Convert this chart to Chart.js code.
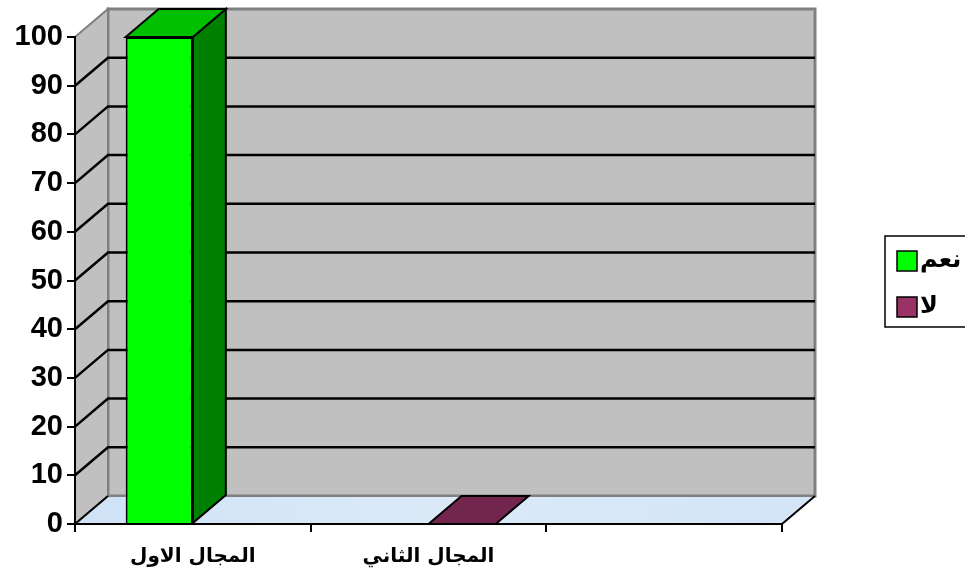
<!DOCTYPE html>
<html>
<head>
<meta charset="utf-8">
<script src="https://cdn.jsdelivr.net/npm/chart.js@4"></script>
<style>
  body { margin: 0; background: #fff; }
  #wrap { width: 965px; height: 579px; position: relative; }
</style>
</head>
<body>
<div id="wrap"><canvas id="chart"></canvas></div>
<script>
// data
var categories = ['المجال الاول', 'المجال الثاني', ''];
var seriesNames = ['نعم', 'لا'];
var yesValues = [100, null, null];
var noValues = [null, 0, null];
var yTicksMax = 100;
var yTicksStep = 10;

var DX = 33, DY = -28;

function shade(ctx, pts, fill, stroke, lw) {
  ctx.beginPath();
  ctx.moveTo(pts[0][0], pts[0][1]);
  for (var i = 1; i < pts.length; i++) ctx.lineTo(pts[i][0], pts[i][1]);
  ctx.closePath();
  if (fill) { ctx.fillStyle = fill; ctx.fill(); }
  if (stroke) { ctx.strokeStyle = stroke; ctx.lineWidth = lw || 2; ctx.stroke(); }
}

// walls, floor and back gridlines go under everything else
var walls3d = {
  id: 'walls3d',
  beforeDraw: function (chart) {
    var ctx = chart.ctx, a = chart.chartArea, y = chart.scales.y;
    ctx.save();
    // back wall
    shade(ctx, [[a.left + DX, a.top + DY], [a.right + DX, a.top + DY],
                [a.right + DX, a.bottom + DY], [a.left + DX, a.bottom + DY]], '#C0C0C0', '#808080', 3);
    // left wall
    shade(ctx, [[a.left, a.top], [a.left + DX, a.top + DY],
                [a.left + DX, a.bottom + DY], [a.left, a.bottom]], '#C0C0C0', '#808080', 2);
    // grid lines on the walls
    y.ticks.forEach(function (t) {
      if (t.value <= 0 || t.value >= yTicksMax) return;
      var py = y.getPixelForValue(t.value);
      ctx.beginPath();
      ctx.moveTo(a.left, py);
      ctx.lineTo(a.left + DX, py + DY);
      ctx.lineTo(a.right + DX, py + DY);
      ctx.strokeStyle = '#000';
      ctx.lineWidth = 2.5;
      ctx.stroke();
    });
    // floor
    var g = ctx.createLinearGradient(a.left, a.bottom, a.right, a.bottom + DY);
    g.addColorStop(0, '#cfe2f6');
    g.addColorStop(0.5, '#dceaf8');
    g.addColorStop(1, '#d3e5f7');
    shade(ctx, [[a.left, a.bottom], [a.right, a.bottom],
                [a.right + DX, a.bottom + DY], [a.left + DX, a.bottom + DY]], g, null);
    ctx.beginPath();
    ctx.moveTo(a.left + DX, a.bottom + DY);
    ctx.lineTo(a.right + DX, a.bottom + DY);
    ctx.strokeStyle = '#808080';
    ctx.lineWidth = 2;
    ctx.stroke();
    ctx.beginPath();
    ctx.moveTo(a.left, a.bottom);
    ctx.lineTo(a.left + DX, a.bottom + DY);
    ctx.moveTo(a.right, a.bottom);
    ctx.lineTo(a.right + DX, a.bottom + DY);
    ctx.strokeStyle = '#000';
    ctx.lineWidth = 2;
    ctx.stroke();
    ctx.restore();
  },
  afterDatasetsDraw: function (chart) {
    var ctx = chart.ctx;
    ctx.save();
    chart.data.datasets.forEach(function (ds, di) {
      var meta = chart.getDatasetMeta(di);
      meta.data.forEach(function (bar, i) {
        if (ds.data[i] === null) return;
        var p = bar.getProps(['x', 'y', 'base', 'width'], true);
        var l = p.x - p.width / 2, r = p.x + p.width / 2;
        var top = Math.min(p.y, p.base), bot = Math.max(p.y, p.base);
        if (bot - top > 0.5) {
          shade(ctx, [[r, top], [r + DX, top + DY], [r + DX, bot + DY], [r, bot]], ds.sideColor, '#000', 2);
        }
        shade(ctx, [[l, top], [l + DX, top + DY], [r + DX, top + DY], [r, top]], ds.topColor, '#000', 2);
      });
    });
    ctx.restore();
  },
  afterDraw: function (chart) {
    // legend box
    var ctx = chart.ctx;
    ctx.save();
    ctx.strokeStyle = '#000';
    ctx.lineWidth = 1.5;
    ctx.strokeRect(885, 236, 110, 91);
    ctx.font = 'bold 24px "DejaVu Sans", sans-serif';
    ctx.textBaseline = 'middle';
    ctx.textAlign = 'left';
    chart.data.datasets.forEach(function (ds, di) {
      var cy = 261 + di * 46;
      ctx.fillStyle = ds.legendColor;
      ctx.fillRect(897, cy - 10, 20, 20);
      ctx.strokeStyle = '#000';
      ctx.lineWidth = 1.5;
      ctx.strokeRect(897, cy - 10, 20, 20);
      ctx.fillStyle = '#000';
      ctx.fillText(ds.label, 920, cy);
    });
    ctx.restore();
  }
};

new Chart(document.getElementById('chart'), {
  type: 'bar',
  data: {
    labels: categories,
    datasets: [{
      label: seriesNames[0],
      data: yesValues,
      backgroundColor: '#00FF00',
      borderColor: '#000',
      borderWidth: 2,
      sideColor: '#008000',
      topColor: '#00C000',
      legendColor: '#00FF00'
    }, {
      label: seriesNames[1],
      data: noValues,
      backgroundColor: '#993366',
      borderColor: '#000',
      borderWidth: 2,
      sideColor: '#4D1A33',
      topColor: '#73264D',
      legendColor: '#993366'
    }]
  },
  options: {
    responsive: true,
    maintainAspectRatio: false,
    animation: false,
    categoryPercentage: 0.57,
    barPercentage: 1,
    layout: { padding: { top: 37, right: 183, left: 0, bottom: 0 } },
    plugins: { legend: { display: false }, tooltip: { enabled: false } },
    scales: {
      x: {
        grid: { drawOnChartArea: false, drawTicks: true, tickLength: 8, color: '#000', lineWidth: 2 },
        border: { color: '#000', width: 2 },
        ticks: {
          color: '#000',
          padding: 13,
          maxRotation: 0,
          font: { family: '"DejaVu Sans", sans-serif', size: 20, weight: 'bold' }
        },
        afterFit: function (s) { s.height = 55; }
      },
      y: {
        min: 0,
        max: yTicksMax,
        grid: { drawOnChartArea: false, drawTicks: true, tickLength: 8, color: '#000', lineWidth: 2 },
        border: { color: '#000', width: 2 },
        ticks: {
          stepSize: yTicksStep,
          color: '#000',
          padding: 4,
          font: { family: '"Liberation Sans", Arial, sans-serif', size: 29, weight: 'bold' }
        },
        afterFit: function (s) { s.width = 75; }
      }
    }
  },
  plugins: [walls3d]
});
</script>
</body>
</html>
